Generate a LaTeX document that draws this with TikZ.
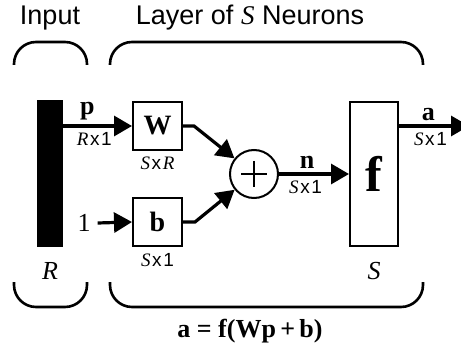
\documentclass[tikz,border=0pt]{standalone}
\usepackage{fontspec}
\setmainfont{Liberation Serif}
\setsansfont{Liberation Sans}
\usetikzlibrary{arrows.meta}
\usetikzlibrary{positioning}

\newcommand{\dimsz}[2]{\fontsize{9.5}{9.5}\selectfont\textit{#1}\kern0.8pt\textsf{x}\kern0.8pt#2}

\begin{document}
\begin{tikzpicture}[x=0.5pt, y=-0.5pt,
    blk/.style = {draw, line width=1pt, minimum width=24.5pt, minimum height=24pt, inner sep=0pt},
    conn/.style = {line width=1.6pt, -{Triangle[length=9pt, width=10pt]}},
    brace/.style = {line width=1.3pt, rounded corners=11pt},
    vec/.style = {font=\fontsize{13}{13}\selectfont\bfseries, inner sep=2pt},
    dim/.style = {inner sep=2.5pt},
    ttl/.style = {font=\fontsize{13.5}{13.5}\selectfont\sffamily}]
    \useasboundingbox (0,0) rectangle (461,353);
    % blocks
    \node[fill=black, minimum width=13pt, minimum height=73.5pt, inner sep=0pt] (bar) at (50,173.5) {};
    \node[blk] (W) at (157.5,126) {\fontsize{14}{14}\selectfont\bfseries W};
    \node[blk] (b) at (157.5,222) {\fontsize{14}{14}\selectfont\bfseries b};
    \node[draw, circle, line width=1pt, minimum size=24pt, inner sep=0pt] (sum) at (254,174) {};
    \draw[line width=1pt] (sum.center) ++(-13,0) -- ++(26,0);
    \draw[line width=1pt] (sum.center) ++(0,-13) -- ++(0,26);
    \node[blk, minimum width=24pt, minimum height=72pt] (f) at (374,174) {\fontsize{25}{25}\selectfont\bfseries f};
    \node[font=\fontsize{13}{13}\selectfont] (one) at (84,223) {1};
    \coordinate (aout) at (469,126);
    % connectors
    \draw[conn] (bar.east |- W.west) -- node[vec, above, pos=0.35] {p} node[dim, below, pos=0.45] {\dimsz{R}{\textsf{1}}} (W.west);
    \draw[conn] (one.east) -- (b.west);
    \draw[conn] (W.east) -- ++(11,0) -- (sum);
    \draw[conn] (b.east) -- ++(12,0) -- (sum);
    \draw[conn] (sum) -- node[vec, above, pos=0.4] {n} node[dim, below, pos=0.38] {\dimsz{S}{\textsf{1}}} (f);
    \draw[conn] (f.east |- W.east) -- node[vec, above, pos=0.42] {a} node[dim, below, pos=0.45] {\dimsz{S}{\textsf{1}}} (aout);
    % sizes
    \node[dim, below=0.5pt of W] (Wsz) {\dimsz{S}{\textit{R}}};
    \node[dim, below=0.5pt of b] (bsz) {\dimsz{S}{\textsf{1}}};
    \node[font=\fontsize{13}{13}\selectfont\itshape, below=4pt of bar] (R) {R};
    \node[font=\fontsize{13}{13}\selectfont\itshape, below=4pt of f] (S) {S};
    % titles and brackets
    \node[ttl] (inp) at (50,18) {Input};
    \node[ttl] (lay) at (250,18) {Layer of \textrm{\itshape S} Neurons};
    \draw[brace] (14,65) -- (14,42) -- (87,42) -- (87,65);
    \draw[brace] (110,65) -- (110,42) -- (423,42) -- (423,65);
    \draw[brace] (14,282) -- (14,307) -- (87,307) -- (87,282);
    \draw[brace] (110,282) -- (110,307) -- (423,307) -- (423,282);
    % equation
    \node[font=\fontsize{13}{13}\selectfont\bfseries] (eq) at (250,331) {a = f(Wp\,+\,b)};
\end{tikzpicture}
\end{document}
